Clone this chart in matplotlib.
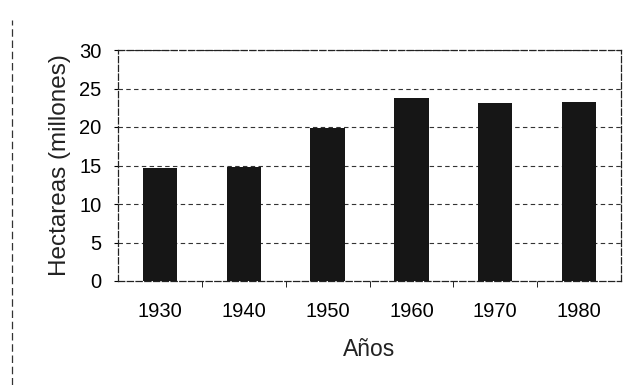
import numpy as np
import matplotlib.pyplot as plt
from matplotlib.lines import Line2D

plt.rcParams['font.family'] = ['Liberation Sans', 'DejaVu Sans']

years = ["1930", "1940", "1950", "1960", "1970", "1980"]
hectares = [14.7, 14.8, 19.9, 23.8, 23.1, 23.2]
y_ticks = [0, 5, 10, 15, 20, 25, 30]

fig = plt.figure(figsize=(6.36, 3.85), dpi=100)
ax = fig.add_axes([118 / 636, 1 - 281 / 385, (621 - 118) / 636, (281 - 50) / 385])

x = np.arange(len(years))
ax.bar(x, hectares, width=0.41, color="#161616", zorder=3)

ax.set_xlim(-0.5, len(years) - 0.5)
ax.set_ylim(0, 30)
ax.set_yticks(y_ticks)
ax.set_xticks(x)
ax.set_xticklabels(years)
ax.set_xticks(np.arange(0.5, len(years) - 1, 1), minor=True)

for v in y_ticks[1:]:
    ax.axhline(v, color="#333333", lw=0.8, ls=(0, (4, 3)), zorder=1)

for side in ["left", "right", "top", "bottom"]:
    ax.spines[side].set_linestyle((0, (5, 2)))
    ax.spines[side].set_linewidth(0.9)
    ax.spines[side].set_color("#222222")

ax.tick_params(axis="x", which="major", length=0, pad=15, labelsize=14.5)
ax.tick_params(axis="x", which="minor", length=4, direction="out")
ax.tick_params(axis="y", length=3, pad=9, labelsize=14.5)

ax.set_ylabel("Hectareas (millones)", fontsize=17.5, color="#222222")
ax.yaxis.set_label_coords(-0.093, 0.5)
ax.set_xlabel("Años", fontsize=16.5, color="#222222")
ax.xaxis.set_label_coords(0.5, -0.245)

# scanned page border on the left
fig.add_artist(Line2D([12 / 636, 12 / 636], [0, 1 - 20 / 385], transform=fig.transFigure,
                      color="#333333", lw=0.9, ls=(0, (6, 3))))

fig.savefig("out.png", dpi=100)
